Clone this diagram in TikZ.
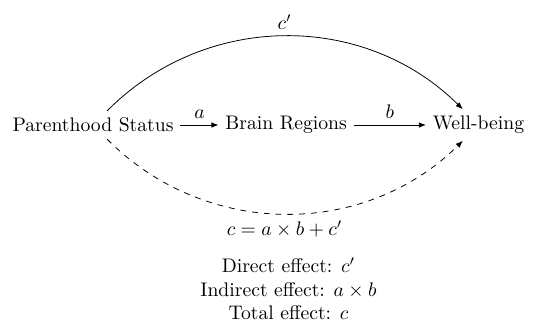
\documentclass[tikz,border=0pt]{standalone}
\usepackage{amsmath,amssymb}
\usepackage{tikz}
\usetikzlibrary{arrows.meta,positioning}
\tikzset{
    var/.style={rectangle, inner sep=3.33pt, align=center, font=\normalsize},
    arr/.style={-{Latex[length=3.6pt,width=2.8pt]}, thin},
    lbl/.style={font=\normalsize, align=center},
}

\begin{document}
\begin{tikzpicture}[node distance=0.68cm and 1.29cm]
    \useasboundingbox (-1.663,-3.629) rectangle (8.062,2.235);
    \node[var]                         (par)  {Parenthood Status};
    \node[var, right=0.68cm of par]    (brain){Brain Regions};
    \node[var, right=1.29cm of brain]  (well) {Well-being};

    \draw[arr] (par)   -- node[above]{$a$} (brain);
    \draw[arr] (brain) -- node[above]{$b$} (well);
    % direct path on top, total effect underneath
    \draw[arr] (par) to[bend left=45] node[midway,above]{$c'$} (well);
    \draw[arr, dashed] (par) to[bend right=45]
        node[midway,below] (tot) {$c = a \times b + c'$} (well);

    \node[lbl, below=0.12cm of tot, xshift=0.07cm] (eff)
        {Direct effect: $c'$\\Indirect effect: $a \times b$\\Total effect: $c$};
\end{tikzpicture}
\end{document}
